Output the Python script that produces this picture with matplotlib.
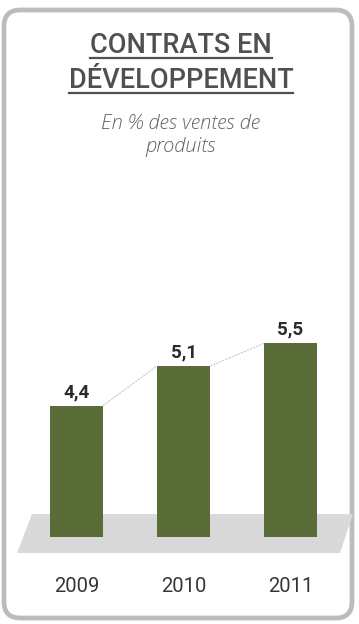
import matplotlib
matplotlib.use("Agg")
import matplotlib.pyplot as plt
from matplotlib.patches import FancyBboxPatch, Polygon
from matplotlib.lines import Line2D

# Data
years = ["2009", "2010", "2011"]
values = [4.4, 5.1, 5.5]
value_labels = ["4,4", "5,1", "5,5"]
title_lines = ["CONTRATS EN", "DÉVELOPPEMENT"]
subtitle_lines = ["En % des ventes de", "produits"]

W, H = 359, 624
DPI = 100
fig = plt.figure(figsize=(W / DPI, H / DPI), dpi=DPI)
fig.patch.set_facecolor("white")


def fx(px):
    return px / W


def fy(py):
    return 1 - py / H


BAR_COLOR = "#5a6d39"
TEXT_DARK = "#363636"
TITLE_GREY = "#505050"

# Rounded outer frame
frame = FancyBboxPatch((fx(4), fy(618)), fx(352) - fx(4), fy(10) - fy(618),
                       boxstyle="round,pad=0,rounding_size=0.045",
                       transform=fig.transFigure, facecolor="white",
                       edgecolor="#bcbcbc", linewidth=3.4,
                       mutation_aspect=W / H, zorder=0)
fig.add_artist(frame)

# Grey floor band under the bars
floor = Polygon([(fx(17), fy(553)), (fx(340), fy(553)),
                 (fx(353), fy(514)), (fx(32), fy(514))],
                closed=True, transform=fig.transFigure,
                facecolor="#d9d9d9", edgecolor="none", zorder=1)
fig.add_artist(floor)

# Bar axes: baseline at pixel row 537, 56.6 px per unit
base_val = 2.08
px_per_unit = 56.6
ax_top_px, ax_bot_px = 290, 537
ax_left_px, ax_right_px = 76.5 - 0.7 * 107, 290.5 + 0.6 * 107
ax = fig.add_axes([fx(ax_left_px), fy(ax_bot_px),
                   fx(ax_right_px) - fx(ax_left_px),
                   fy(ax_top_px) - fy(ax_bot_px)])
ax.set_xlim(-0.7, 2.6)
ax.set_ylim(base_val, base_val + (ax_bot_px - ax_top_px) / px_per_unit)
ax.patch.set_alpha(0)
ax.axis("off")
ax.set_zorder(2)

x = list(range(len(years)))
bar_w = 0.495
ax.bar(x, values, width=bar_w, color=BAR_COLOR, bottom=0, zorder=3)

# Thin connector between bar tops
for i in range(len(values) - 1):
    ax.plot([x[i] + bar_w / 2, x[i + 1] - bar_w / 2], [values[i], values[i + 1]],
            color="#c9c9c9", linewidth=0.8, linestyle=(0, (2, 1)), zorder=2)

# Value labels above bars
for xi, v, lab in zip(x, values, value_labels):
    ax.annotate(lab, (xi, v), xytext=(0, 13.5), textcoords="offset pixels",
                ha="center", va="center", fontsize=13.5, fontweight="bold",
                family="Roboto", color="#2b2b2b")

# Year labels below the floor
for xi, yr in zip(x, years):
    xp = ax.transData.transform((xi, 0))[0] / W
    fig.text(xp, fy(587), yr, ha="center", va="center", fontsize=14.5,
             family="Roboto", color=TEXT_DARK)

# Title with underline
title_baselines = [53, 88]
renderer = fig.canvas.get_renderer()
for line, base in zip(title_lines, title_baselines):
    t = fig.text(fx(181), fy(base), line, ha="center", va="baseline",
                 fontsize=19.5, family="Roboto", fontweight="medium",
                 color=TITLE_GREY)
    bb = t.get_window_extent(renderer=renderer)
    uy = fy(base + 5)
    fig.add_artist(Line2D([bb.x0 / W, bb.x1 / W], [uy, uy],
                          transform=fig.transFigure, color=TITLE_GREY,
                          linewidth=1.6))

# Subtitle
for line, cy in zip(subtitle_lines, [124, 147]):
    fig.text(fx(180.5), fy(cy), line, ha="center", va="center",
             fontsize=14.5, family="Open Sans", style="italic",
             fontweight="light", color="#626262")

fig.savefig("out.png", dpi=DPI)
